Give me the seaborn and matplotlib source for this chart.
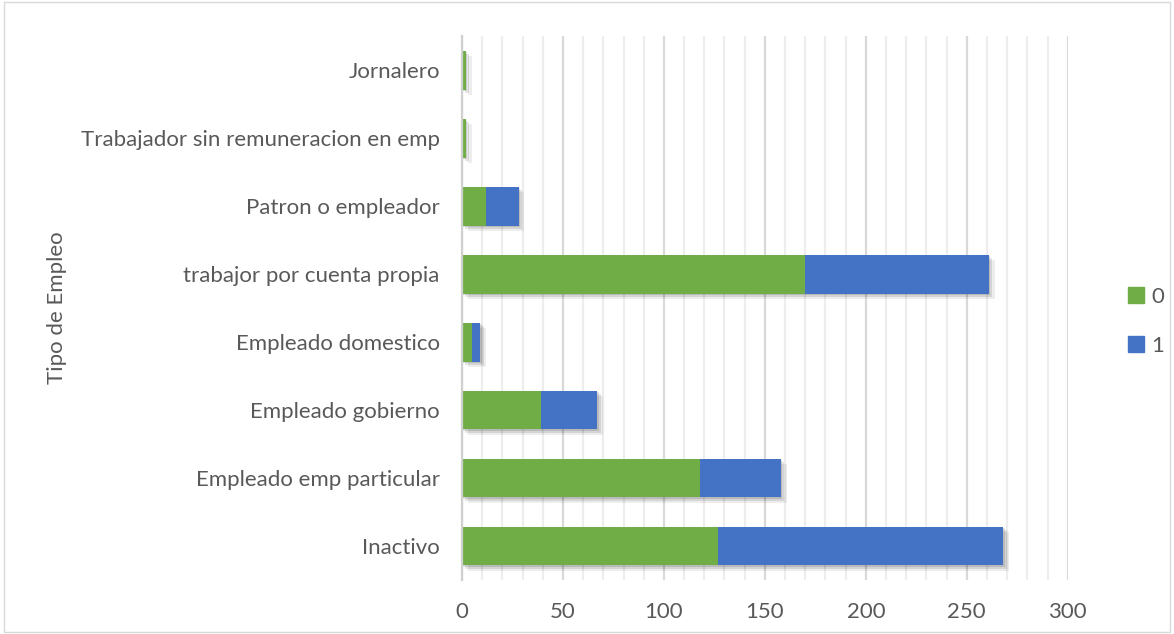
import numpy as np
import pandas as pd
import matplotlib
matplotlib.use("Agg")
import matplotlib.pyplot as plt
import matplotlib.patches as patches
import matplotlib.patheffects as pe
from matplotlib.ticker import MultipleLocator
import seaborn as sns

# datos
categorias = ["Jornalero", "Trabajador sin remuneracion en emp", "Patron o empleador",
              "trabajor por cuenta propia", "Empleado domestico", "Empleado gobierno",
              "Empleado emp particular", "Inactivo"]
valores_0 = [2, 2, 12, 170, 5, 39, 118, 127]
valores_1 = [0, 0, 16, 91, 4, 28, 40, 141]
series = ["0", "1"]

verde = "#70AD47"
azul = "#4472C4"
gris_txt = "#595959"

df = pd.DataFrame({"tipo": categorias, "v0": valores_0, "v1": valores_1})
df["total"] = df["v0"] + df["v1"]

sns.set_style("white")
plt.rcParams['font.family'] = ['Lato', 'DejaVu Sans']

fig = plt.figure(figsize=(11.74, 6.34), dpi=100)
ax = fig.add_axes([0.3935, 0.085, 0.516, 0.858])

# sombra suave
sombra = [pe.SimplePatchShadow(offset=(4, -4), shadow_rgbFace="#000000", alpha=0.07),
          pe.SimplePatchShadow(offset=(2.5, -2.5), shadow_rgbFace="#000000", alpha=0.1),
          pe.SimplePatchShadow(offset=(1, -1), shadow_rgbFace="#000000", alpha=0.12),
          pe.Normal()]
sns.barplot(data=df, x="total", y="tipo", color=azul, saturation=1, width=0.57, ax=ax)
sns.barplot(data=df, x="v0", y="tipo", color=verde, saturation=1, width=0.57, ax=ax)
n = len(categorias)
for i, p in enumerate(ax.patches):
    p.set_linewidth(0)
    if i < n:
        p.set_path_effects(sombra)

# rejilla
ax.set_xlim(0, 300)
ax.xaxis.set_major_locator(MultipleLocator(50))
ax.xaxis.set_minor_locator(MultipleLocator(10))
ax.grid(which="major", axis="x", color="#D9D9D9", linewidth=1.6)
ax.grid(which="minor", axis="x", color="#EDEDED", linewidth=1.6)
ax.set_axisbelow(True)
for s in ["top", "right", "bottom"]:
    ax.spines[s].set_visible(False)
ax.spines["left"].set_color("#D0D0D0")
ax.spines["left"].set_linewidth(1.6)

ax.tick_params(axis="both", which="both", length=0, colors=gris_txt, labelsize=16)
ax.tick_params(axis="y", pad=16)
ax.tick_params(axis="x", pad=16)
ax.set_xlabel("")
ax.set_ylabel("Tipo de Empleo", fontsize=16, color=gris_txt, labelpad=10)

handles = [patches.Patch(color=verde, label=series[0]), patches.Patch(color=azul, label=series[1])]
fig.legend(handles=handles, loc="center left", bbox_to_anchor=(0.944, 0.493), frameon=False,
           fontsize=16, labelcolor=gris_txt, handlelength=0.7, handleheight=0.7,
           handletextpad=0.35, labelspacing=1.3)

# borde exterior
fig.patches.append(patches.Rectangle((0.003, 0.003), 0.994, 0.994, transform=fig.transFigure,
                                     fill=False, edgecolor="#D9D9D9", linewidth=1))

fig.savefig("out.png", dpi=100)
